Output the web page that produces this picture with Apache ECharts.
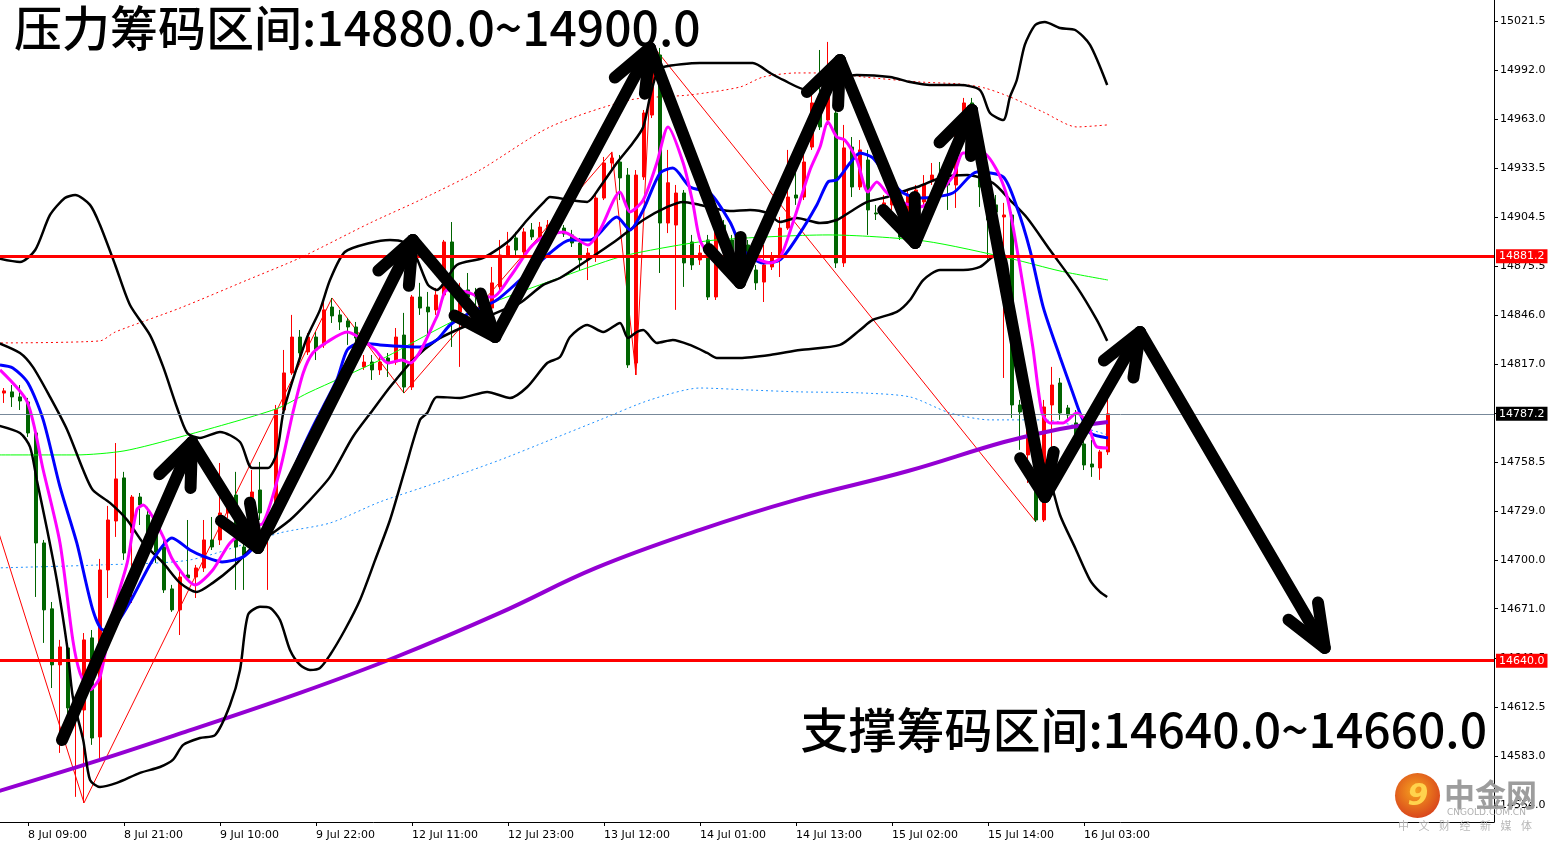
<!DOCTYPE html>
<html><head><meta charset="utf-8">
<script src="https://cdn.jsdelivr.net/npm/echarts@6/dist/echarts.min.js"></script>
<style>html,body{margin:0;padding:0;background:#fff}#c{width:1551px;height:844px}</style>
</head><body><div id="c"></div>
<script>
// ---------- DATA ----------
const firstBar = -3; // bar index of first candle (index 0 = 8 Jul 09:00)
// [open, close, low, high]
const ohlc = [
[14799.6,14800.9,14793.7,14802.6],[14800.3,14797.3,14791.3,14804.4],[14797.3,14794.9,14789.5,14804.4],
[14794.3,14775.8,14773.4,14796.7],[14775.8,14710.2,14678.0,14777.6],[14710.2,14670.3,14650.6,14712.0],
[14670.9,14637.5,14623.7,14675.0],[14637.5,14648.2,14585.0,14652.4],[14647.6,14611.8,14599.9,14649.4],
[14607.7,14616.6,14558.8,14619.6],[14610.6,14652.4,14555.2,14656.5],[14653.6,14593.9,14589.8,14658.3],
[14594.5,14694.1,14580.8,14700.7],[14694.1,14723.9,14677.4,14732.3],[14723.3,14748.4,14713.8,14769.8],
[14749.0,14704.2,14700.1,14752.6],[14716.2,14737.6,14674.4,14738.8],[14737.6,14732.9,14720.9,14740.0],
[14726.9,14707.8,14706.0,14731.7],[14716.2,14704.8,14698.3,14720.9],[14707.8,14682.2,14680.4,14712.0],
[14682.8,14670.3,14669.1,14685.2],[14670.3,14689.9,14655.3,14695.3],[14691.1,14689.3,14688.1,14723.9],
[14689.9,14695.3,14677.4,14697.1],[14695.3,14712.0,14692.9,14723.9],[14712.0,14707.8,14706.0,14725.7],
[14712.0,14728.1,14709.0,14757.9],[14728.1,14731.7,14725.1,14735.9],[14738.8,14707.8,14682.2,14752.6],
[14707.8,14703.1,14682.2,14712.0],[14728.1,14740.6,14723.9,14753.7],[14741.8,14728.1,14723.9,14758.5],
[14719.8,14725.7,14682.2,14729.9],[14723.9,14789.5,14720.9,14792.5],[14789.5,14811.6,14788.3,14825.3],
[14811.6,14833.0,14810.4,14846.2],[14833.0,14823.5,14819.3,14837.2],[14824.1,14833.0,14822.3,14835.4],
[14833.0,14825.3,14819.3,14836.0],[14828.3,14849.2,14826.5,14853.9],[14850.9,14845.6,14841.4,14856.3],
[14846.2,14842.0,14837.2,14849.2],[14842.6,14839.0,14828.3,14844.4],[14839.0,14832.4,14828.3,14842.0],
[14815.2,14818.1,14813.4,14822.3],[14818.1,14813.4,14807.4,14822.3],[14813.4,14818.1,14810.4,14822.3],
[14820.5,14817.5,14809.2,14823.5],[14818.1,14833.0,14816.4,14838.4],[14834.2,14803.2,14799.6,14847.4],
[14803.2,14856.9,14801.4,14858.1],[14856.9,14850.3,14846.2,14865.3],[14850.9,14848.0,14834.2,14859.9],
[14849.2,14858.1,14846.2,14862.3],[14858.1,14889.7,14856.3,14890.9],[14889.7,14843.2,14827.1,14901.6],
[14848.0,14853.3,14815.2,14865.3],[14861.1,14856.9,14855.1,14871.2],[14859.9,14856.9,14852.1,14862.3],
[14853.3,14858.1,14849.2,14861.1],[14850.3,14865.3,14848.0,14874.8],[14862.9,14881.9,14861.1,14890.9],
[14881.9,14887.3,14880.2,14895.7],[14892.1,14884.9,14881.9,14895.7],[14883.7,14895.7,14881.9,14898.0],
[14896.9,14892.7,14890.9,14901.0],[14892.7,14898.6,14890.9,14901.6],[14895.7,14899.8,14893.9,14902.8],
[14899.8,14896.9,14893.9,14902.8],[14898.0,14894.5,14892.7,14899.8],[14893.9,14889.1,14886.7,14896.9],
[14889.1,14879.0,14873.0,14892.1],[14879.0,14883.1,14867.0,14886.1],[14880.8,14915.9,14877.8,14917.7],
[14915.9,14936.8,14914.7,14940.4],[14936.8,14939.8,14932.6,14943.4],[14937.4,14927.9,14914.7,14941.6],
[14929.6,14816.4,14814.6,14933.8],[14817.5,14929.6,14810.4,14932.6],[14928.5,14966.6,14926.7,14968.4],
[14965.4,15001.2,14963.6,15007.2],[15001.2,14901.0,14871.2,15005.4],[14901.0,14925.0,14895.0,14944.6],
[14899.8,14918.9,14849.2,14923.7],[14918.9,14877.2,14862.9,14920.7],[14889.7,14876.0,14873.0,14893.9],
[14879.0,14883.1,14876.0,14887.9],[14890.9,14856.9,14855.1,14893.9],[14856.9,14901.0,14855.1,14904.0],
[14899.8,14887.9,14881.9,14902.8],[14890.9,14877.8,14870.0,14893.9],[14877.8,14887.9,14867.0,14890.9],
[14887.9,14883.7,14880.2,14890.9],[14873.0,14865.3,14861.1,14876.0],[14865.8,14876.0,14853.9,14887.9],
[14874.8,14880.2,14873.0,14883.7],[14880.8,14898.0,14868.8,14904.6],[14898.0,14916.5,14896.9,14944.6],
[14917.7,14915.9,14911.8,14938.6],[14916.5,14937.4,14914.7,14941.6],[14946.3,14972.6,14944.6,14977.4],
[14976.2,14958.3,14956.5,15004.2],[14962.4,14976.2,14959.5,15009.0],[14966.6,14877.2,14874.2,14974.4],
[14877.2,14945.8,14874.8,14959.5],[14946.3,14922.5,14916.5,14952.3],[14922.5,14944.6,14920.7,14950.5],
[14938.6,14908.8,14893.9,14944.6],[14907.0,14906.4,14902.8,14911.8],[14908.8,14913.0,14905.8,14917.7],
[14911.8,14915.9,14908.8,14920.7],[14908.8,14892.7,14890.9,14911.8],[14905.8,14917.7,14902.8,14920.7],
[14914.7,14920.7,14911.8,14923.7],[14913.6,14923.7,14911.8,14929.6],[14926.7,14929.6,14923.7,14936.8],
[14929.6,14928.5,14920.7,14937.4],[14927.9,14923.7,14908.8,14932.6],[14923.7,14957.7,14910.0,14959.5],
[14959.5,14972.6,14956.5,14975.6],[14972.6,14944.6,14941.6,14975.6],[14944.6,14922.5,14910.6,14947.5],
[14922.5,14902.8,14877.8,14926.7],[14911.8,14907.6,14886.7,14917.7],[14904.6,14905.8,14808.6,14913.0],
[14905.8,14792.5,14784.8,14907.6],[14792.5,14788.3,14765.7,14795.5],[14762.7,14778.8,14746.0,14780.6],
[14759.7,14723.9,14722.7,14762.7],[14723.9,14791.3,14722.7,14795.5],[14792.5,14804.4,14767.5,14815.2],
[14805.6,14787.7,14783.6,14808.6],[14790.7,14786.5,14783.6,14792.5],[14781.8,14768.7,14765.7,14789.5],
[14769.2,14756.7,14753.7,14771.6],[14757.3,14755.5,14749.6,14771.6],[14754.9,14764.5,14747.8,14765.7],
[14764.5,14787.2,14762.7,14796.7]
];
const xTickLabels = ['8 Jul 09:00','8 Jul 21:00','9 Jul 10:00','9 Jul 22:00','12 Jul 11:00','12 Jul 23:00',
  '13 Jul 12:00','14 Jul 01:00','14 Jul 13:00','15 Jul 02:00','15 Jul 14:00','16 Jul 03:00'];
const barsPerLabel = 12;
const priceTicks = [15021.5,14992.0,14963.0,14933.5,14904.5,14875.5,14846.0,14817.0,14787.5,
  14758.5,14729.0,14700.0,14671.0,14641.5,14612.5,14583.0,14554.0];
const resistanceLevel = 14881.2;
const supportLevel = 14640.0;
const lastPrice = 14787.2;

// indicator lines, [bar index, price]
const maPurple = [[-4,14561.7],[9,14580.8],[20,14598.1],[34,14620.8],[46,14642.2],[59,14668.5],[71,14695.3],
  [84,14718.0],[96,14735.9],[110,14753.1],[122,14770.4],[129,14778.2],[135,14782.4]];
const maGreen = [[-4,14762.7],[6,14762.7],[12,14765.1],[19,14773.4],[31,14790.1],[35,14799.7],[44,14819.3],
  [51,14837.2],[57,14851.5],[66,14867.6],[74,14880.8],[80,14886.7],[86,14890.9],[100,14893.9],[112,14890.3],
  [123,14879.6],[129,14872.4],[135,14867.0]];
const maBlue = [[-3.5,14816.4],[-1.9,14814.6],[0,14805.6],[1.9,14783.6],[4,14743.6],[6.1,14710.2],[8.1,14670.3],
  [9.4,14658.3],[11.1,14662.5],[13.1,14678.0],[15.6,14700.1],[18,14713.2],[20.25,14706.0],[22.1,14701.9],
  [24.25,14698.9],[26.9,14701.9],[29,14712.0],[31.5,14732.9],[33.4,14756.7],[35.6,14779.4],[38.6,14807.4],
  [39.9,14825.3],[41.5,14829.5],[44,14828.3],[49,14827.1],[51.1,14831.3],[52.75,14840.2],[55.25,14847.4],
  [58.6,14855.1],[61.5,14867.0],[65.25,14883.1],[67.75,14890.9],[70.25,14890.9],[73.6,14904.6],[75.25,14896.9],
  [76.9,14908.8],[79,14930.8],[80.6,14933.8],[82.75,14922.5],[85.25,14918.9],[87.75,14901.6],[89.4,14884.9],
  [91.9,14877.2],[94,14879.0],[96.1,14892.1],[98.6,14911.8],[100,14925.5],[101.1,14926.7],[102.75,14936.8],
  [104,14942.8],[105.6,14939.8],[107.4,14928.5],[109.4,14918.9],[111.5,14915.9],[115.6,14918.9],[118.6,14931.4],
  [121.9,14928.5],[123.6,14910.6],[125.25,14884.9],[126.9,14850.9],[129,14821.1],[130.6,14799.7],[131.5,14787.7],
  [132.75,14775.8],[135,14772.8]];
const maMagenta = [[-3.5,14813.4],[-0.1,14794.3],[1.9,14753.7],[4,14710.2],[5.6,14652.4],[6.5,14632.7],[7.75,14622.6],
  [9,14630.3],[10.6,14668.5],[12.4,14698.3],[13.6,14729.9],[14.4,14732.9],[15.6,14725.7],[16.9,14713.8],[18.1,14700.1],
  [20.9,14685.2],[23.1,14694.1],[25.25,14710.2],[27.75,14719.8],[29.4,14722.1],[31.5,14753.7],[33.1,14787.7],
  [34.4,14811.6],[35.6,14823.5],[37.4,14830.1],[39.9,14836.0],[41.5,14832.4],[43.4,14825.3],[45,14817.5],
  [46.75,14819.3],[47.75,14817.5],[51.1,14845.0],[52.4,14861.1],[54.9,14859.9],[56.5,14856.9],[58.1,14856.9],
  [60.25,14868.8],[62.75,14886.1],[64.4,14892.7],[66.9,14895.7],[70,14887.9],[71.5,14896.9],[74,14919.5],
  [75.25,14907.6],[76.9,14914.7],[78.6,14936.8],[80,14958.3],[81.9,14936.8],[83.1,14913.0],[84,14890.9],
  [85.6,14879.0],[87.1,14875.4],[89.9,14881.3],[92.75,14877.2],[94,14880.2],[95.6,14901.0],[97.75,14932.6],
  [99,14946.3],[100,14961.3],[101.1,14952.3],[102.1,14950.5],[103.6,14938.6],[105,14919.5],[106.1,14925.5],
  [107.4,14918.9],[109.4,14913.0],[111.5,14910.6],[115.6,14928.5],[116.9,14942.8],[119.4,14942.8],[121.1,14932.6],
  [122.4,14916.5],[124,14874.8],[125.6,14827.1],[126.75,14787.7],[127.75,14781.8],[129.4,14781.8],[131.1,14787.7],
  [132.4,14781.8],[133.6,14767.5],[135,14766.9]];
const envUpper = [[-4,14829.5],[9,14830.7],[10.9,14836.0],[19,14850.3],[27.4,14867.0],[34,14880.2],[42.75,14901.0],
  [49,14914.7],[56.5,14932.6],[65.25,14958.3],[75.25,14974.4],[82.75,14977.4],[89,14982.1],[91.9,14988.1],
  [96.1,14990.5],[100.25,14990.5],[104.4,14988.1],[111.5,14985.1],[116.5,14983.9],[119.6,14981.5],[122.75,14976.2],
  [126.9,14967.2],[131.1,14958.3],[134.9,14959.5]];
const envLower = [[-4,14695.3],[9,14697.1],[20.25,14700.1],[31.5,14716.2],[37.75,14722.1],[44,14734.7],[50.25,14744.8],
  [59,14759.7],[65.25,14771.6],[71.5,14783.6],[77.75,14795.5],[84,14802.6],[90.25,14801.4],[96.5,14800.3],
  [104,14799.7],[110.25,14797.3],[115.25,14787.7],[120.25,14783.6],[126.9,14783.6],[135,14774.6]];
const bbUpper = [[-4,14880.2],[-1,14877.8],[0.9,14884.9],[2.75,14905.8],[4.6,14915.9],[5.9,14917.7],[7.75,14911.8],
  [9,14899.8],[10.9,14876.0],[12.75,14852.1],[15.25,14834.2],[16.9,14815.2],[18.6,14791.3],[19.9,14775.8],
  [21.5,14772.8],[24,14776.4],[26.5,14770.4],[28,14754.9],[30,14754.9],[31.1,14763.9],[31.9,14787.7],[33.1,14807.4],
  [34.9,14833.0],[36.5,14849.2],[37.75,14867.0],[39.6,14883.7],[42.75,14889.1],[45.25,14890.9],[46.9,14889.7],
  [48.4,14881.9],[50,14864.1],[51.1,14861.1],[53.6,14876.0],[56.9,14880.2],[60.25,14890.9],[62.4,14902.8],
  [64.4,14913.0],[65.25,14916.5],[67.75,14914.7],[69.9,14913.6],[71.5,14922.5],[73.6,14936.8],[75.6,14948.7],
  [76.9,14958.3],[77.75,14976.2],[78.6,14990.5],[79.4,14994.1],[84,14996.4],[90.6,14996.4],[92.75,14990.5],
  [94.4,14986.3],[97.4,14980.3],[100.25,14985.1],[103.6,14989.3],[107.75,14988.1],[110.25,14985.1],[112.75,14983.3],
  [116.5,14983.3],[119,14980.3],[120.25,14966.6],[121.9,14962.4],[122.75,14976.2],[123.6,14986.3],[124.6,15007.2],
  [125.9,15019.1],[127.1,15020.9],[129,15017.3],[130.9,15016.1],[132.75,15007.2],[134.9,14983.3]];
const bbMiddle = [[-4,14830.1],[-1,14823.5],[0.6,14815.2],[2.75,14797.3],[4.9,14777.6],[6.9,14753.7],[8.1,14741.8],
  [10.25,14734.1],[12.4,14723.9],[14.4,14710.2],[16.9,14698.3],[19,14686.4],[21.1,14681.0],[23.1,14686.4],
  [25.6,14695.9],[28.1,14707.8],[30.6,14716.2],[32.75,14723.9],[34.9,14734.1],[37.75,14749.6],[40.6,14773.4],
  [43.1,14789.5],[45.25,14803.2],[48.1,14819.3],[51.1,14831.3],[53.6,14837.2],[56.5,14843.2],[59.4,14849.2],
  [61.5,14853.3],[64.4,14864.1],[66.5,14868.2],[69.4,14877.2],[73.6,14890.9],[76.9,14902.8],[79.9,14910.6],
  [81.9,14913.6],[84,14911.8],[87.75,14908.2],[90.25,14908.8],[92.4,14907.0],[94,14901.6],[96.1,14904.0],
  [99,14901.0],[101.1,14902.8],[102.75,14907.6],[104.9,14913.6],[107.4,14916.5],[109.9,14920.7],[111.5,14923.1],
  [114.4,14928.5],[117.4,14929.6],[120.6,14924.9],[122.75,14914.7],[124.9,14904.0],[127.75,14884.9],[131.1,14862.9],
  [133.6,14843.2],[134.9,14830.7]];
const bbLower = [[-4,14780.6],[-1,14775.8],[0.25,14767.5],[1.1,14747.8],[2.4,14718.0],[3.6,14688.1],[4.9,14648.2],
  [5.6,14618.4],[6.9,14592.7],[7.75,14568.9],[9,14564.7],[11.1,14567.1],[14,14573.1],[16.5,14576.6],[18.1,14580.8],
  [19.4,14589.8],[21.5,14593.9],[23.4,14595.7],[25.25,14613.6],[26.5,14634.5],[27.5,14667.3],[29,14672.1],
  [30.25,14671.5],[31.5,14664.3],[32.75,14646.4],[34,14637.5],[35.25,14634.5],[36.5,14635.7],[37.75,14643.4],
  [39.6,14658.3],[41.5,14676.2],[43.4,14700.1],[45.25,14723.9],[47.1,14753.7],[49,14783.6],[49.9,14787.7],
  [51.1,14797.3],[54,14796.7],[57.4,14800.3],[60.25,14796.7],[62.4,14803.2],[64.9,14817.5],[66.5,14821.1],
  [67.75,14833.0],[69.9,14840.2],[71.9,14836.0],[74,14841.4],[75,14832.4],[76.1,14836.0],[76.9,14837.2],
  [78.6,14829.5],[80.6,14831.3],[82.75,14828.3],[84.9,14823.5],[86.1,14820.5],[89,14820.5],[92.75,14822.3],
  [96.5,14825.3],[101.5,14828.3],[104,14837.2],[105.6,14843.2],[108.6,14848.0],[110.25,14855.1],[111.9,14867.0],
  [114,14873.0],[116.9,14873.0],[119,14874.8],[120.6,14880.8],[121.9,14882.5],[123,14855.1],[124.9,14798.0],
  [126.5,14763.0],[127.75,14748.0],[129,14726.9],[130.9,14707.2],[132.75,14688.1],[134,14681.0],[134.9,14678.0]];
const zigzag = [[-4,14721.5],[7,14555.2],[38,14856.3],[47,14799.6],[73,14943.4],[76,14810.4],[78,15007.2],[126,14722.7]];
// hand-drawn arrow path (vertices)
const arrowPath = [[4.25,14592.7],[20.5,14770.4],[28.75,14707.2],[48.1,14890.9],[58.4,14833.0],[77.75,15005.4],
  [89,14865.3],[101.5,14998.2],[110.9,14889.1],[118,14968.4],[127.1,14737.6],[139,14836.0],[162.1,14647.6]];
const titleTop = '压力筹码区间:14880.0~14900.0';
const titleBottom = '支撑筹码区间:14640.0~14660.0';
const logoName = '中金网', logoUrl = 'CNGOLD.COM.CN', logoSlogan = ['中','文','财','经','新','媒','体'];

// ---------- CHART ----------
const chart = echarts.init(document.getElementById('c'), null, {renderer:'canvas'});
const candleData = ohlc.map((d, i) => [i + firstBar, d[0], d[1], d[2], d[3]]);
const tickVals = xTickLabels.map((_, i) => i * barsPerLabel);
const arrowSegs = [];
for (let i = 0; i < arrowPath.length - 1; i++) arrowSegs.push([arrowPath[i][0], arrowPath[i][1], arrowPath[i+1][0], arrowPath[i+1][1]]);

function lineSeries(data, color, width, opts) {
  return Object.assign({
    type: 'line', data: data, showSymbol: false, symbol: 'none', smooth: 0.25, silent: true,
    lineStyle: { color: color, width: width }, z: 5, animation: false
  }, opts || {});
}
const axisFont = 'DejaVu Sans';
const bigFont = '500 48px "Noto Sans CJK SC"';
const option = {
  animation: false,
  backgroundColor: '#ffffff',
  grid: { left: 0, right: 57, top: 0, bottom: 22, containLabel: false },
  xAxis: {
    type: 'value', min: -3.5, max: 183.25,
    axisLine: { show: true, onZero: false, lineStyle: { color: '#000', width: 1 } },
    axisTick: { show: true, customValues: tickVals, length: 4, lineStyle: { color: '#000' } },
    axisLabel: { show: true, customValues: tickVals, align: 'left', margin: 8, color: '#000',
      fontSize: 11, fontFamily: axisFont,
      formatter: v => xTickLabels[Math.round(v / barsPerLabel)] || '' },
    splitLine: { show: false }
  },
  yAxis: {
    type: 'value', position: 'right', min: 14543.8, max: 15034.0, scale: true,
    axisLine: { show: true, onZero: false, lineStyle: { color: '#000', width: 1 } },
    axisTick: { show: true, customValues: priceTicks, length: 4, inside: false, lineStyle: { color: '#000' } },
    axisLabel: { show: true, customValues: priceTicks, margin: 6, color: '#000', fontSize: 11, fontFamily: axisFont,
      formatter: v => v.toFixed(1) },
    splitLine: { show: false }
  },
  series: [
    lineSeries(envLower, '#1e90ff', 1, { lineStyle: { color: '#1e90ff', width: 1, type: [2, 3] }, z: 3 }),
    lineSeries(envUpper, '#ff0000', 1, { lineStyle: { color: '#ff0000', width: 1, type: [2, 3] }, z: 3 }),
    lineSeries(zigzag, '#ff0000', 1, { smooth: false, z: 3 }),
    {
      type: 'candlestick', data: candleData, encode: { x: 0, y: [1, 2, 3, 4] }, barWidth: 4, z: 4, silent: true,
      itemStyle: { color: '#ff0000', color0: '#006400', borderColor: '#ff0000', borderColor0: '#006400',
        borderColorDoji: '#ff0000', borderWidth: 1 },
      markLine: {
        silent: true, symbol: 'none', animation: false, z: 8,
        data: [
          { yAxis: lastPrice, lineStyle: { color: '#778899', width: 1, type: 'solid' },
            label: { show: true, position: 'end', distance: 2, formatter: p => p.value.toFixed(1), color: '#fff',
              backgroundColor: '#000', padding: [2, 3, 1, 3], fontSize: 11, fontFamily: axisFont } },
          { yAxis: resistanceLevel, lineStyle: { color: '#ff0000', width: 3, type: 'solid' },
            label: { show: true, position: 'end', distance: 2, formatter: p => p.value.toFixed(1), color: '#fff',
              backgroundColor: '#ff0000', padding: [2, 3, 1, 3], fontSize: 11, fontFamily: axisFont } },
          { yAxis: supportLevel, lineStyle: { color: '#ff0000', width: 3, type: 'solid' },
            label: { show: true, position: 'end', distance: 2, formatter: p => p.value.toFixed(1), color: '#fff',
              backgroundColor: '#ff0000', padding: [2, 3, 1, 3], fontSize: 11, fontFamily: axisFont } }
        ]
      }
    },
    lineSeries(maGreen, '#00ff00', 1, { z: 5 }),
    lineSeries(maPurple, '#9400d3', 4, { smooth: 0.4, z: 5 }),
    lineSeries(bbUpper, '#000000', 2.5, { z: 6 }),
    lineSeries(bbMiddle, '#000000', 2.5, { z: 6 }),
    lineSeries(bbLower, '#000000', 2.5, { z: 6 }),
    lineSeries(maBlue, '#0000ff', 3, { z: 7 }),
    lineSeries(maMagenta, '#ff00ff', 3, { z: 7 }),
    {
      type: 'custom', data: arrowSegs, encode: { x: [0, 2], y: [1, 3] }, z: 20, clip: false, silent: true,
      renderItem: function (params, api) {
        const a = api.coord([api.value(0), api.value(1)]);
        const b = api.coord([api.value(2), api.value(3)]);
        const back = Math.atan2(a[1] - b[1], a[0] - b[0]);
        const L = 46, s = 0.38;
        const b1 = [b[0] + L * Math.cos(back + s), b[1] + L * Math.sin(back + s)];
        const b2 = [b[0] + L * Math.cos(back - s), b[1] + L * Math.sin(back - s)];
        const st = { stroke: '#000', lineWidth: 12, lineCap: 'round', lineJoin: 'round', fill: null };
        return { type: 'group', children: [
          { type: 'line', shape: { x1: a[0], y1: a[1], x2: b[0], y2: b[1] }, style: st },
          { type: 'polyline', shape: { points: [b1, b, b2] }, style: st }
        ] };
      }
    }
  ],
  graphic: [
    { type: 'text', x: 14, y: 28, z: 30, style: { text: titleTop, font: bigFont,
        fill: '#000', verticalAlign: 'middle' } },
    { type: 'text', x: 1487, y: 730, z: 30, style: { text: titleBottom, font: bigFont,
        fill: '#000', align: 'right', verticalAlign: 'middle' } },
    { type: 'circle', z: 30, shape: { cx: 1417.5, cy: 795.5, r: 22.5 },
      style: { fill: new echarts.graphic.RadialGradient(0.45, 0.4, 0.75,
        [{ offset: 0, color: '#f6a31e' }, { offset: 1, color: '#d2301c' }]) } },
    { type: 'text', x: 1418, y: 797, z: 31, style: { text: '9', font: 'bold italic 30px "DejaVu Sans"',
        fill: '#ffd34d', align: 'center', verticalAlign: 'middle' } },
    { type: 'text', x: 1444, y: 794, z: 30, style: { text: logoName, font: 'bold 31px "Noto Sans CJK SC"',
        fill: '#9d9d9d', verticalAlign: 'middle' } },
    { type: 'text', x: 1447, y: 813, z: 30, style: { text: logoUrl, font: '9px "DejaVu Sans"',
        fill: '#b0b0b0', verticalAlign: 'middle' } }
  ].concat(logoSlogan.map((ch, i) => ({ type: 'text', x: 1398 + i * 20.5, y: 826, z: 30,
      style: { text: ch, font: '11px "Noto Sans CJK SC"', fill: '#b8b8b8', verticalAlign: 'middle' } })))
};
chart.setOption(option);
</script>
</body></html>
